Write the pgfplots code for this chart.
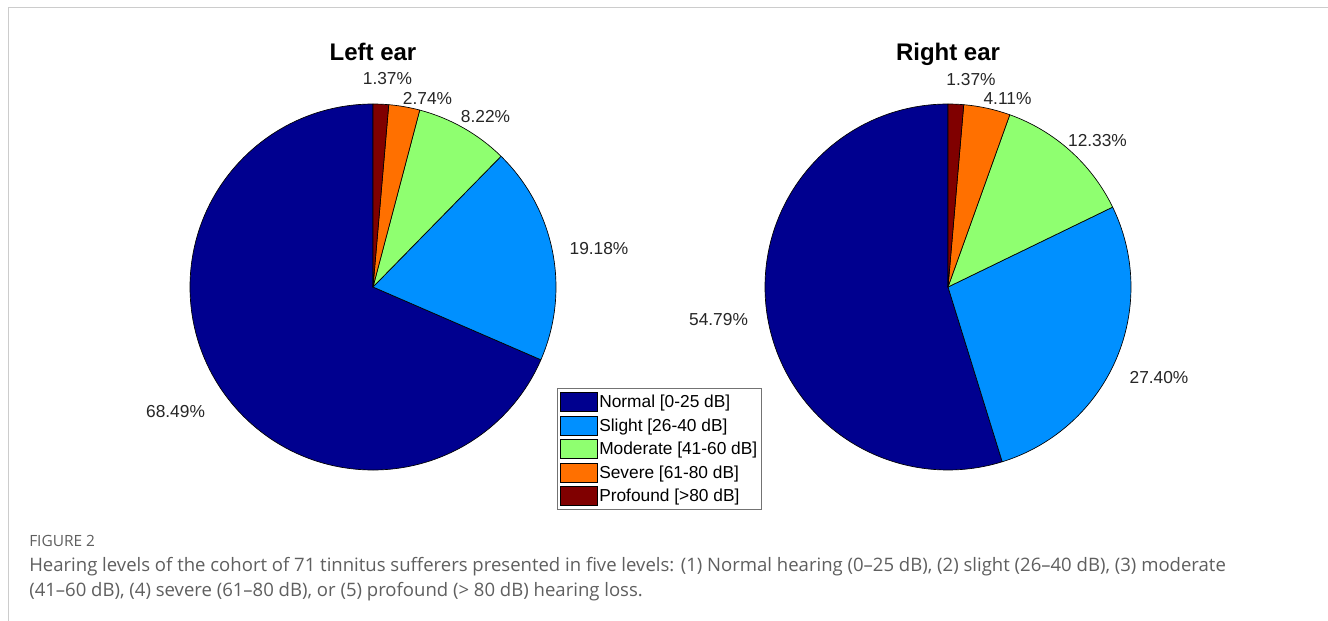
\documentclass[border=0pt]{standalone}
\usepackage{pgfplots}
\pgfplotsset{compat=1.18}
\usepackage{pgfplotstable}
\usepackage{fontspec}
\setmainfont{Liberation Sans}
\newfontfamily\capfont[Ligatures=TeX]{Open Sans}

\definecolor{cNormal}{RGB}{0,0,143}
\definecolor{cSlight}{RGB}{0,144,255}
\definecolor{cModerate}{RGB}{143,255,112}
\definecolor{cSevere}{RGB}{255,112,0}
\definecolor{cProfound}{RGB}{128,0,0}
\definecolor{framegray}{RGB}{204,204,204}
\definecolor{capgray}{RGB}{95,95,95}

\newcommand\pctfont{\fontsize{13}{15}\selectfont}
\newcommand\legfont{\fontsize{13}{15}\selectfont}

% percentages and label positions (axis units, radius = 1)
\pgfplotstableread{
cat pct lx ly
Normal 68.49 -1.079 -0.680
Slight 19.18 1.235 0.208
Moderate 8.22 0.615 0.934
Severe 2.74 0.298 1.030
Profound 1.37 0.079 1.139
}\leftdata
\pgfplotstableread{
cat pct lx ly
Normal 54.79 -1.254 -0.178
Slight 27.40 1.153 -0.492
Moderate 12.33 0.817 0.801
Severe 4.11 0.325 1.030
Profound 1.37 0.126 1.134
}\rightdata

\newcommand\drawpie[1]{%
  \def\startangle{90}%
  \pgfplotsforeachungrouped \i in {0,...,4}{%
    \pgfplotstablegetelem{\i}{pct}\of#1\let\p\pgfplotsretval
    \pgfplotstablegetelem{\i}{cat}\of#1\let\c\pgfplotsretval
    \pgfplotstablegetelem{\i}{lx}\of#1\let\lx\pgfplotsretval
    \pgfplotstablegetelem{\i}{ly}\of#1\let\ly\pgfplotsretval
    \pgfmathsetmacro\endangle{\startangle+3.6*\p}%
    \pgfmathsetmacro\cx{cos(\startangle)}%
    \pgfmathsetmacro\cy{sin(\startangle)}%
    \edef\temp{\noexpand\draw[fill=c\c, draw=black, line width=0.5pt, line join=round]
        (axis cs:0,0) -- (axis cs:\cx,\cy) arc[start angle=\startangle, end angle=\endangle, radius=137.25pt] -- cycle;
      \noexpand\node[font=\noexpand\pctfont, text=black!85, inner sep=0pt, anchor=center] at (axis cs:\lx,\ly) {\p\noexpand\%};}%
    \temp
    \global\let\startangle\endangle
  }%
}

\pgfplotsset{
  pieaxis/.style={
    anchor=origin, hide axis, clip=false,
    x=137.25pt, y=137.25pt,
    xmin=-1.5, xmax=1.5, ymin=-1.5, ymax=1.5,
  }
}

\begin{document}
\begin{tikzpicture}
\begin{scope}[x=0.75pt,y=-0.75pt]
\path[use as bounding box] (0,0) rectangle (1328,621);
\fill[white] (0,0) rectangle (1328,621);
\draw[framegray, line width=1.3pt] (8.5,621) -- (8.5,7.5) -- (1328,7.5);
\coordinate (LC) at (373,287);
\coordinate (RC) at (948,287);
\node[anchor=base west, inner sep=0pt, font=\capfont\fontsize{11.6}{14}\selectfont, text=capgray] at (29,546) {FIGURE 2};
\node[anchor=base west, inner sep=0pt, font=\capfont\fontsize{13.9}{16}\selectfont, text=capgray] at (29,571) {Hearing levels of the cohort of 71 tinnitus sufferers presented in five levels: (1) Normal hearing (0–25 dB), (2) slight (26–40 dB), (3) moderate};
\node[anchor=base west, inner sep=0pt, font=\capfont\fontsize{13.9}{16}\selectfont, text=capgray] at (29,596) {(41–60 dB), (4) severe (61–80 dB), or (5) profound (> 80 dB) hearing loss.};
\end{scope}

\begin{axis}[pieaxis, at={(LC)},
  legend style={at={(axis description cs:0.835,0.316)}, anchor=north west,
    draw=black!55, line width=0.6pt, fill=white,
    inner xsep=2pt, inner ysep=1.5pt, row sep=0pt,
    font=\legfont, cells={anchor=west},
    nodes={inner xsep=1.2pt, inner ysep=1pt, text height=12pt, text depth=3.6pt}},
  legend image code/.code={\draw[#1,draw=black,line width=0.5pt] (0pt,-7.1pt) rectangle (27.75pt,7.1pt);},
]
\addlegendimage{fill=cNormal}\addlegendentry{Normal [0-25 dB]}
\addlegendimage{fill=cSlight}\addlegendentry{Slight [26-40 dB]}
\addlegendimage{fill=cModerate}\addlegendentry{Moderate [41-60 dB]}
\addlegendimage{fill=cSevere}\addlegendentry{Severe [61-80 dB]}
\addlegendimage{fill=cProfound}\addlegendentry{Profound [>80 dB]}
\drawpie{\leftdata}
\node[anchor=base, font=\bfseries\fontsize{18}{20}\selectfont, inner sep=0pt] at (axis cs:0,1.235) {Left ear};
\end{axis}

\begin{axis}[pieaxis, at={(RC)}]
\drawpie{\rightdata}
\node[anchor=base, font=\bfseries\fontsize{18}{20}\selectfont, inner sep=0pt] at (axis cs:0,1.235) {Right ear};
\end{axis}
\end{tikzpicture}
\end{document}
